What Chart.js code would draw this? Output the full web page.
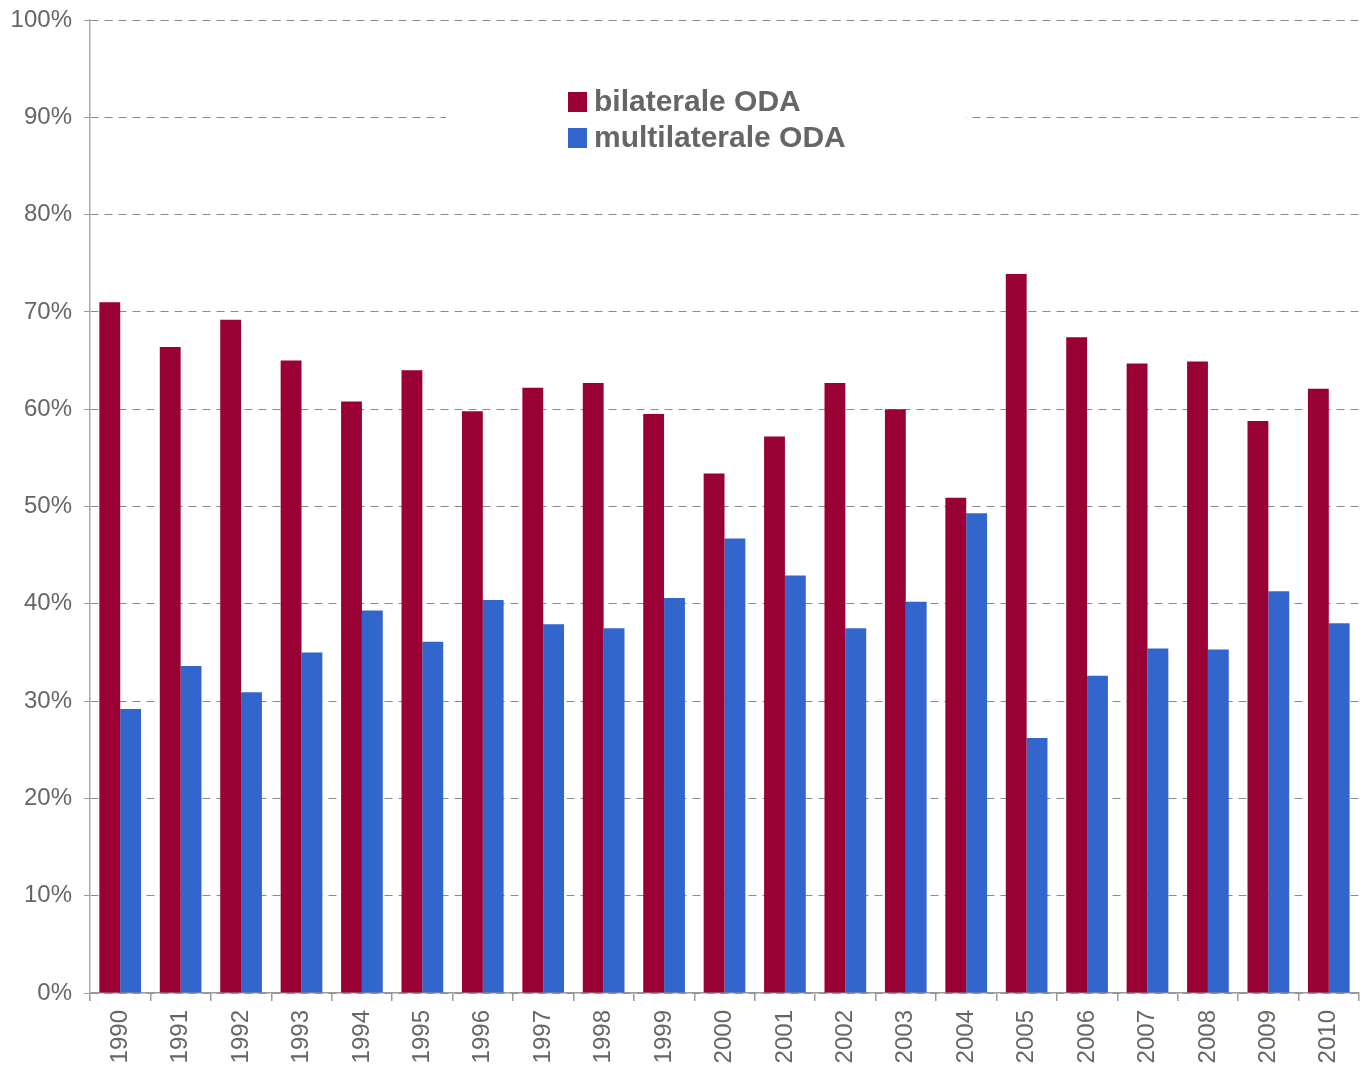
<!DOCTYPE html>
<html>
<head>
<meta charset="utf-8">
<script src="https://cdn.jsdelivr.net/npm/chart.js@4/dist/chart.umd.min.js"></script>
<style>
  html, body { margin: 0; padding: 0; background: #fff; }
  #wrap { width: 1369px; height: 1070px; }
</style>
</head>
<body>
<div id="wrap"><canvas id="odaChart"></canvas></div>
<script>
var years = ["1990", "1991", "1992", "1993", "1994", "1995", "1996", "1997", "1998", "1999", "2000",
             "2001", "2002", "2003", "2004", "2005", "2006", "2007", "2008", "2009", "2010"];
var bilateral = [71.0, 66.4, 69.2, 65.0, 60.8, 64.0, 59.8, 62.2, 62.7, 59.5, 53.4,
                 57.2, 62.7, 60.0, 50.9, 73.9, 67.4, 64.7, 64.9, 58.8, 62.1];
var multilateral = [29.2, 33.6, 30.9, 35.0, 39.3, 36.1, 40.4, 37.9, 37.5, 40.6, 46.7,
                    42.9, 37.5, 40.2, 49.3, 26.2, 32.6, 35.4, 35.3, 41.3, 38.0];
var seriesNames = ["bilaterale ODA", "multilaterale ODA"];
var yTicks = [0, 10, 20, 30, 40, 50, 60, 70, 80, 90, 100];

var textGrey = '#666666';

// legend drawn inside the plot on a white patch, like the original
var boxLegend = {
  id: 'boxLegend',
  afterDraw: function(chart) {
    var c = chart.ctx;
    c.save();
    c.fillStyle = '#ffffff';
    c.fillRect(446, 72, 520, 96);
    c.font = 'bold 30px "Liberation Sans", Arial, sans-serif';
    c.textBaseline = 'middle';
    chart.data.datasets.forEach(function(ds, i) {
      var y = 102 + i * 36;
      c.fillStyle = ds.backgroundColor;
      c.fillRect(568, y - 10, 19, 20);
      c.fillStyle = textGrey;
      c.fillText(ds.label, 594, y + 1);
    });
    c.restore();
  }
};

var ctx = document.getElementById("odaChart");
var odaChart = new Chart(ctx, {
  type: 'bar',
  data: {
    labels: years,
    datasets: [
      { label: seriesNames[0], data: bilateral, backgroundColor: '#990033' },
      { label: seriesNames[1], data: multilateral, backgroundColor: '#3366CC' }
    ]
  },
  options: {
    responsive: true,
    maintainAspectRatio: false,
    animation: false,
    layout: { padding: { top: 20, right: 10, left: 0, bottom: 0 } },
    datasets: { bar: { categoryPercentage: 0.69, barPercentage: 1.0 } },
    plugins: {
      legend: { display: false },
      tooltip: { enabled: false }
    },
    scales: {
      x: {
        afterFit: function(scale) { scale.height = 77; },
        grid: {
          offset: true,
          drawOnChartArea: false,
          drawTicks: true,
          tickLength: 8,
          color: '#999999',
          lineWidth: 1.5
        },
        border: { color: '#999999', width: 1.5 },
        ticks: {
          color: textGrey,
          font: { family: '"Liberation Sans", Arial, sans-serif', size: 24 },
          minRotation: 90,
          maxRotation: 90,
          padding: 9
        }
      },
      y: {
        min: 0,
        max: 100,
        afterFit: function(scale) {
          scale.width = 90;
          scale.paddingTop = 0;
          scale.paddingBottom = 0;
        },
        afterBuildTicks: function(scale) {
          scale.ticks = yTicks.map(function(v) { return { value: v }; });
        },
        grid: {
          color: '#8a8a8a',
          lineWidth: 1,
          tickLength: 6,
          tickColor: '#999999',
          drawTicks: true
        },
        border: { color: '#aaaaaa', width: 1.5, dash: [8, 6] },
        ticks: {
          color: textGrey,
          font: { family: '"Liberation Sans", Arial, sans-serif', size: 24 },
          padding: 12,
          callback: function(v) { return v + '%'; }
        }
      }
    }
  },
  plugins: [boxLegend]
});
</script>
</body>
</html>
